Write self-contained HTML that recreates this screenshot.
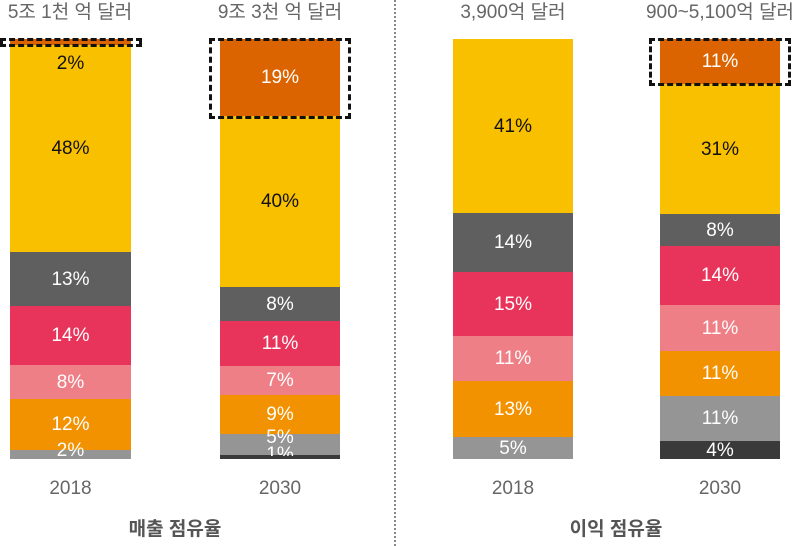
<!DOCTYPE html>
<html><head><meta charset="utf-8"><style>
body{margin:0;width:799px;height:546px;background:#fff;position:relative;overflow:hidden;font-family:"Liberation Sans","Noto Sans CJK KR",sans-serif}
.s{position:absolute;display:flex;align-items:center;justify-content:center;color:#fff;font-size:19px;overflow:visible;line-height:1}
.t{position:absolute;text-align:center;color:#666;font-size:19px;line-height:1}
.d{position:absolute;border:3px dashed #111;box-sizing:border-box}
</style></head><body>
<div class="t" style="left:-5px;width:150px;top:3px">5조 1천 억 달러</div>
<div class="t" style="left:200px;width:160px;top:3px">9조 3천 억 달러</div>
<div class="t" style="left:433px;width:160px;top:3px">3,900억 달러</div>
<div class="t" style="left:625px;width:190px;top:3px">900~5,100억 달러</div>

<!-- bar1 -->
<div class="s" style="left:10px;width:121px;top:39px;height:6px;background:#dc6400"></div>
<div class="s" style="left:10px;width:121px;top:45px;height:207px;background:#f9c000;color:#111;align-items:flex-start"><span style="margin-top:9px">2%</span></div>
<div class="s" style="left:10px;width:121px;top:45px;height:207px;color:#111">48%</div>
<div class="s" style="left:10px;width:121px;top:252px;height:54px;background:#5f5f5f">13%</div>
<div class="s" style="left:10px;width:121px;top:306px;height:59px;background:#e8345a">14%</div>
<div class="s" style="left:10px;width:121px;top:365px;height:34px;background:#ef7f86">8%</div>
<div class="s" style="left:10px;width:121px;top:399px;height:51px;background:#f39200">12%</div>
<div class="s" style="left:10px;width:121px;top:450px;height:9px;background:#959595"></div>
<div class="s" style="left:10px;width:121px;top:441px;height:18px">2%</div>
<div class="d" style="left:0;width:142px;top:38px;height:9px"></div>

<!-- bar2 -->
<div class="s" style="left:220px;width:120px;top:39px;height:77px;background:#dc6400">19%</div>
<div class="s" style="left:220px;width:120px;top:116px;height:171px;background:#f9c000;color:#111">40%</div>
<div class="s" style="left:220px;width:120px;top:287px;height:34px;background:#5f5f5f">8%</div>
<div class="s" style="left:220px;width:120px;top:321px;height:45px;background:#e8345a">11%</div>
<div class="s" style="left:220px;width:120px;top:366px;height:29px;background:#ef7f86">7%</div>
<div class="s" style="left:220px;width:120px;top:395px;height:39px;background:#f39200">9%</div>
<div class="s" style="left:220px;width:120px;top:434px;height:21px;background:#959595"></div>
<div class="s" style="left:220px;width:120px;top:428px;height:18px">5%</div>
<div class="s" style="left:220px;width:120px;top:455px;height:4px;background:#3a3a3a"></div>
<div class="s" style="left:220px;width:120px;top:444px;height:12px;overflow:hidden;align-items:flex-start"><span style="margin-top:1px">1%</span></div>
<div class="d" style="left:209px;width:142px;top:38px;height:81px"></div>

<!-- bar3 -->
<div class="s" style="left:453px;width:120px;top:39px;height:174px;background:#f9c000;color:#111">41%</div>
<div class="s" style="left:453px;width:120px;top:213px;height:59px;background:#5f5f5f">14%</div>
<div class="s" style="left:453px;width:120px;top:272px;height:64px;background:#e8345a">15%</div>
<div class="s" style="left:453px;width:120px;top:336px;height:45px;background:#ef7f86">11%</div>
<div class="s" style="left:453px;width:120px;top:381px;height:56px;background:#f39200">13%</div>
<div class="s" style="left:453px;width:120px;top:437px;height:22px;background:#959595">5%</div>

<!-- bar4 -->
<div class="s" style="left:660px;width:120px;top:39px;height:45px;background:#dc6400">11%</div>
<div class="s" style="left:660px;width:120px;top:84px;height:130px;background:#f9c000;color:#111">31%</div>
<div class="s" style="left:660px;width:120px;top:214px;height:32px;background:#5f5f5f">8%</div>
<div class="s" style="left:660px;width:120px;top:246px;height:59px;background:#e8345a">14%</div>
<div class="s" style="left:660px;width:120px;top:305px;height:46px;background:#ef7f86">11%</div>
<div class="s" style="left:660px;width:120px;top:351px;height:45px;background:#f39200">11%</div>
<div class="s" style="left:660px;width:120px;top:396px;height:45px;background:#959595">11%</div>
<div class="s" style="left:660px;width:120px;top:441px;height:18px;background:#3a3a3a">4%</div>
<div class="d" style="left:649px;width:142px;top:38px;height:48px"></div>

<div style="position:absolute;left:394px;top:0;height:546px;border-left:2px dotted #888"></div>

<div class="t" style="left:10px;width:121px;top:479px">2018</div>
<div class="t" style="left:220px;width:120px;top:479px">2030</div>
<div class="t" style="left:453px;width:120px;top:479px">2018</div>
<div class="t" style="left:660px;width:120px;top:479px">2030</div>
<div class="t" style="left:75px;width:200px;top:520px;font-weight:bold;color:#555">매출 점유율</div>
<div class="t" style="left:516px;width:200px;top:520px;font-weight:bold;color:#555">이익 점유율</div>
</body></html>
